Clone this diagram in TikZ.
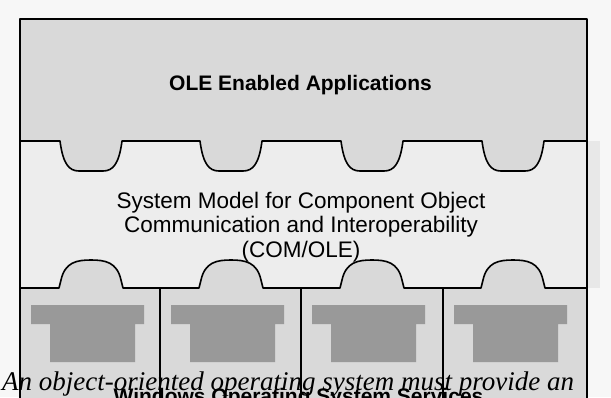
\documentclass[tikz,border=0pt]{standalone}
\usepackage{fontspec}
\setmainfont{Liberation Serif}
\setsansfont{Liberation Sans}
\begin{document}
\begin{tikzpicture}[x=1pt,y=-1pt,
  edge/.style={line width=1.6pt, line join=round, line cap=butt},
  bandfill/.style={fill=black!15},
  midfill/.style={fill=black!7},
  plugfill/.style={fill=black!40},
  titletext/.style={font=\sffamily\bfseries\fontsize{21}{24}\selectfont, inner sep=0pt},
  modeltext/.style={font=\sffamily\fontsize{22.5}{24.5}\selectfont, align=center, inner sep=0pt},
  captiontext/.style={font=\itshape\fontsize{27}{30}\selectfont, inner sep=0pt}]
\useasboundingbox (0,0) rectangle (611,397);
\clip (0,0) rectangle (611,397);
% background
\fill[black!3] (0,0) rectangle (611,397);
\fill[black!9] (588,141) rectangle (600,288);
% middle band
\fill[midfill] (20,19) rectangle (587,397);
% top band with tabs
\fill[bandfill] (20,19) -- (20,141)
  \foreach \c in {91,231,372,513} {
    -- (\c-31,141) .. controls (\c-28,164) and (\c-22,171) .. (\c-12,171)
    -- (\c+12,171) .. controls (\c+22,171) and (\c+28,164) .. (\c+31,141) }
  -- (587,141) -- (587,19) -- cycle;
% bottom band with bumps
\fill[bandfill] (20,400) -- (20,288)
  \foreach \c in {91,231,372,513} {
    -- (\c-32,288) -- (\c-30,280) .. controls (\c-26,262) and (\c-14,260) .. (\c,260)
    .. controls (\c+14,260) and (\c+26,262) .. (\c+30,280) -- (\c+32,288) }
  -- (587,288) -- (587,400) -- cycle;
% plug shapes in the bottom cells
\foreach \L in {20,160,301,443} {
  \fill[plugfill] (\L+11,305) -- (\L+124,305) -- (\L+124,324) -- (\L+115,324)
    -- (\L+115,362) -- (\L+30,362) -- (\L+30,324) -- (\L+11,324) -- cycle;
}
% outlines
\draw[edge] (20,400) -- (20,19) -- (587,19) -- (587,400);
\draw[edge] (20,141)
  \foreach \c in {91,231,372,513} {
    -- (\c-31,141) .. controls (\c-28,164) and (\c-22,171) .. (\c-12,171)
    -- (\c+12,171) .. controls (\c+22,171) and (\c+28,164) .. (\c+31,141) }
  -- (587,141);
\draw[edge] (20,288)
  \foreach \c in {91,231,372,513} {
    -- (\c-32,288) -- (\c-30,280) .. controls (\c-26,262) and (\c-14,260) .. (\c,260)
    .. controls (\c+14,260) and (\c+26,262) .. (\c+30,280) -- (\c+32,288) }
  -- (587,288);
\foreach \X in {160,301,443} {
  \draw[edge] (\X,288) -- (\X,400);
}
% texts
\node[titletext, anchor=base] (title) at (300.5,90) {OLE Enabled Applications};
\node[modeltext, anchor=base] (model) at (301,257) {System Model for Component Object\\Communication and Interoperability\\(COM/OLE)};
\node[titletext, anchor=base] (services) at (298.5,403) {Windows Operating System Services};
\node[captiontext, anchor=base west] (caption) at (2,390) {An object-oriented operating system must provide an};
\end{tikzpicture}
\end{document}
